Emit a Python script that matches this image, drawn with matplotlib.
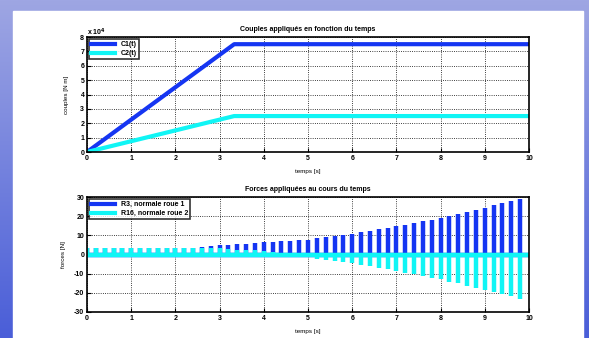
import matplotlib.pyplot as plt
import numpy as np
from matplotlib.ticker import FuncFormatter
from matplotlib.colors import LinearSegmentedColormap

# couples appliqués
t_c = [0, 3.33, 10]
c1 = [0, 7.5e4, 7.5e4]
c2 = [0, 2.5e4, 2.5e4]

# forces normales, un échantillon toutes les 0.2 s
t_f = [round(0.2 * k, 1) for k in range(50)]
r3 = [3.4, 3.4, 3.4, 3.4, 3.4, 3.4, 3.4, 3.4, 3.5, 3.5,
      3.5, 3.6, 3.6, 4.0, 4.3, 4.7, 5.0, 5.4, 5.7, 6.1,
      6.3, 6.6, 6.8, 7.1, 7.5, 7.8, 8.5, 9.0, 9.5, 10.2,
      10.9, 11.6, 12.5, 13.2, 13.9, 14.8, 15.6, 16.5, 17.4, 18.2,
      19.1, 20.3, 21.2, 22.4, 23.4, 24.5, 25.9, 26.9, 28.1, 29.2]
r16 = [3.6, 3.6, 3.6, 3.6, 3.6, 3.6, 3.6, 3.6, 3.6, 3.6,
       3.6, 3.6, 3.5, 3.5, 3.4, 3.3, 3.0, 2.6, 2.3, 2.1,
       1.7, 1.4, 1.0, 0.5, -0.3, -1.4, -2.3, -3.0, -3.5, -4.0,
       -4.5, -5.4, -6.2, -7.1, -7.8, -8.7, -9.4, -10.4, -11.3, -12.2,
       -13.0, -14.1, -15.1, -16.3, -17.4, -18.4, -19.6, -20.7, -21.9, -23.3]

BLUE = '#1535f2'
CYAN = '#10f5f5'

plt.rcParams['font.family'] = ['Liberation Sans', 'DejaVu Sans']
plt.rcParams['font.weight'] = 'bold'
plt.rcParams['font.size'] = 5
plt.rcParams['axes.unicode_minus'] = False

fig = plt.figure(figsize=(5.89, 3.38), dpi=100)

# fond bleu dégradé + zone blanche
bg = fig.add_axes([0, 0, 1, 1], zorder=-10)
grad = np.linspace(0, 1, 256).reshape(-1, 1)
cmap = LinearSegmentedColormap.from_list('bg', ['#9ea6e3', '#4a5ed8'])
bg.imshow(grad, aspect='auto', cmap=cmap, extent=[0, 1, 0, 1], origin='upper')
bg.add_patch(plt.Rectangle((13 / 589, 0), 570 / 589, 1 - 11 / 338, color='white'))
bg.set_xlim(0, 1)
bg.set_ylim(0, 1)
bg.axis('off')


def style(ax):
    ax.set_xlim(0, 10)
    ax.set_xticks(range(11))
    ax.grid(True, linestyle=':', color='black', linewidth=0.6)
    ax.tick_params(direction='in', length=3, width=0.8, pad=2, labelsize=5)
    for s in ax.spines.values():
        s.set_linewidth(1.2)
    for lab in ax.get_xticklabels() + ax.get_yticklabels():
        lab.set_fontweight('bold')


ax1 = fig.add_axes([87 / 589, 1 - 152 / 338, 442 / 589, 115 / 338])
ax1.plot(t_c, c1, color=BLUE, lw=3, label='C1(t)')
ax1.plot(t_c, c2, color=CYAN, lw=3, label='C2(t)')
ax1.set_ylim(0, 8e4)
ax1.set_yticks(np.arange(0, 8.1e4, 1e4))
ax1.yaxis.set_major_formatter(FuncFormatter(lambda v, p: f'{v / 1e4:g}'))
style(ax1)
ax1.text(0, 1.015, r'x 10$^4$', transform=ax1.transAxes, fontsize=5, fontweight='bold')
ax1.set_title('Couples appliqués en fonction du temps', fontsize=5, fontweight='bold', pad=4)
ax1.set_xlabel('temps [s]', fontsize=4.5, labelpad=5)
ax1.set_ylabel('couples [N m]', fontsize=4.5, labelpad=8)
leg = ax1.legend(loc='upper left', fontsize=5, fancybox=False, edgecolor='black',
                 borderaxespad=0.3, handlelength=3.5, borderpad=0.3, labelspacing=0.3)
leg.get_frame().set_linewidth(1.2)

ax2 = fig.add_axes([87 / 589, 1 - 312 / 338, 442 / 589, 115 / 338])
ax2.vlines(t_f, 0, r3, color=BLUE, lw=3.2)
ax2.plot([t_f[0], 10], [0, 0], color=BLUE, lw=3.2)
ax2.vlines(t_f, 0, r16, color=CYAN, lw=3.2)
ax2.plot([t_f[0], 10], [0, 0], color=CYAN, lw=3.2)
ax2.plot([], [], color=BLUE, lw=3, label='R3, normale roue 1')
ax2.plot([], [], color=CYAN, lw=3, label='R16, normale roue 2')
ax2.set_ylim(-30, 30)
ax2.set_yticks(range(-30, 31, 10))
style(ax2)
ax2.set_title('Forces appliquées au cours du temps', fontsize=5, fontweight='bold', pad=4)
ax2.set_xlabel('temps [s]', fontsize=4.5, labelpad=5)
ax2.set_ylabel('forces [N]', fontsize=4.5, labelpad=6)
leg2 = ax2.legend(loc='upper left', fontsize=5, fancybox=False, edgecolor='black',
                  borderaxespad=0.3, handlelength=3.5, borderpad=0.3, labelspacing=0.3)
leg2.get_frame().set_linewidth(1.2)

fig.savefig('out.png', dpi=100)
